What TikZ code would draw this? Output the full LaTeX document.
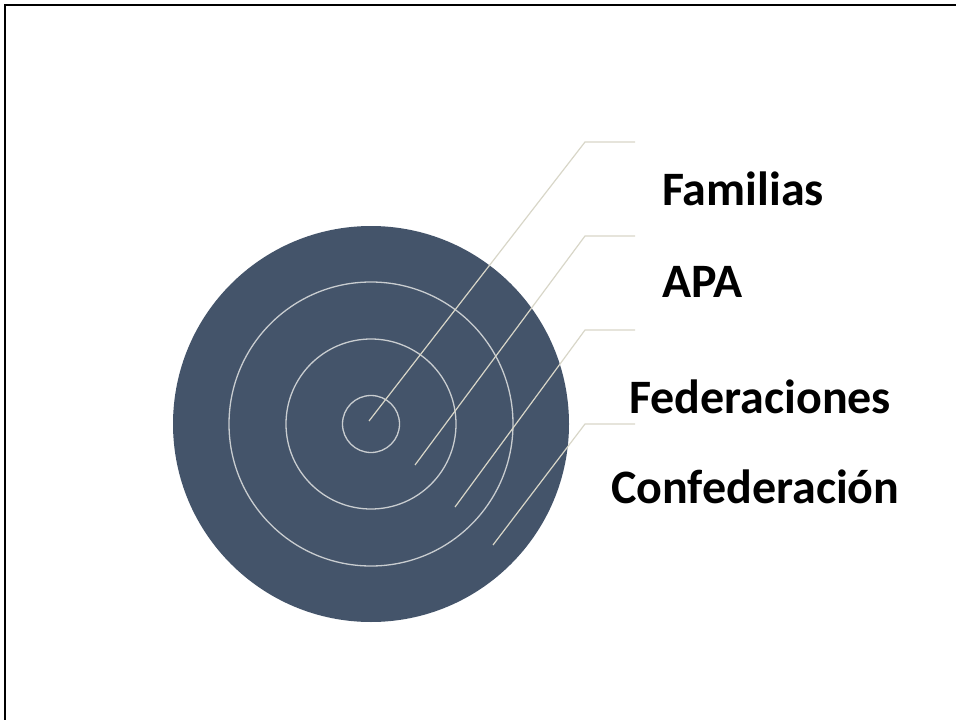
\documentclass[tikz,border=0pt]{standalone}
\usepackage{fontspec}
\setmainfont{Carlito}
\definecolor{disc}{HTML}{44546A}
\definecolor{ring}{HTML}{C9CDD0}
\definecolor{lead}{HTML}{D8D6C8}
\begin{document}
\begin{tikzpicture}[x=1bp,y=-1bp,
  ringline/.style={draw=ring,line width=1.3bp},
  leader/.style={draw=lead,line width=1.2bp},
  lbl/.style={anchor=base west,inner sep=0pt,font=\fontsize{48bp}{56bp}\selectfont\bfseries}]
\useasboundingbox (0,0) rectangle (956,720);
\draw[line width=2.5bp] (5,720) -- (5,5) -- (956,5);
\fill[disc] (371,424) circle (198);
\draw[ringline] (371,424) circle (142);
\draw[ringline] (371,424) circle (85);
\draw[ringline] (371,424) circle (28.5);
\coordinate (p1) at (369,421);
\coordinate (p2) at (415,465);
\coordinate (p3) at (455,507);
\coordinate (p4) at (493,545);
\coordinate (k1) at (585,142);
\coordinate (k2) at (585,236);
\coordinate (k3) at (585,330);
\coordinate (k4) at (585,424);
\coordinate (e1) at (635,142);
\coordinate (e2) at (635,236);
\coordinate (e3) at (635,330);
\coordinate (e4) at (635,424);
\draw[leader] (p1) -- (k1) -- (e1);
\draw[leader] (p2) -- (k2) -- (e2);
\draw[leader] (p3) -- (k3) -- (e3);
\draw[leader] (p4) -- (k4) -- (e4);
\node[lbl] (t1) at (662,205) {Familias};
\node[lbl] (t2) at (662,297) {APA};
\node[lbl] (t3) at (629,413) {Federaciones};
\node[lbl] (t4) at (611,503) {Confederación};
\end{tikzpicture}
\end{document}
